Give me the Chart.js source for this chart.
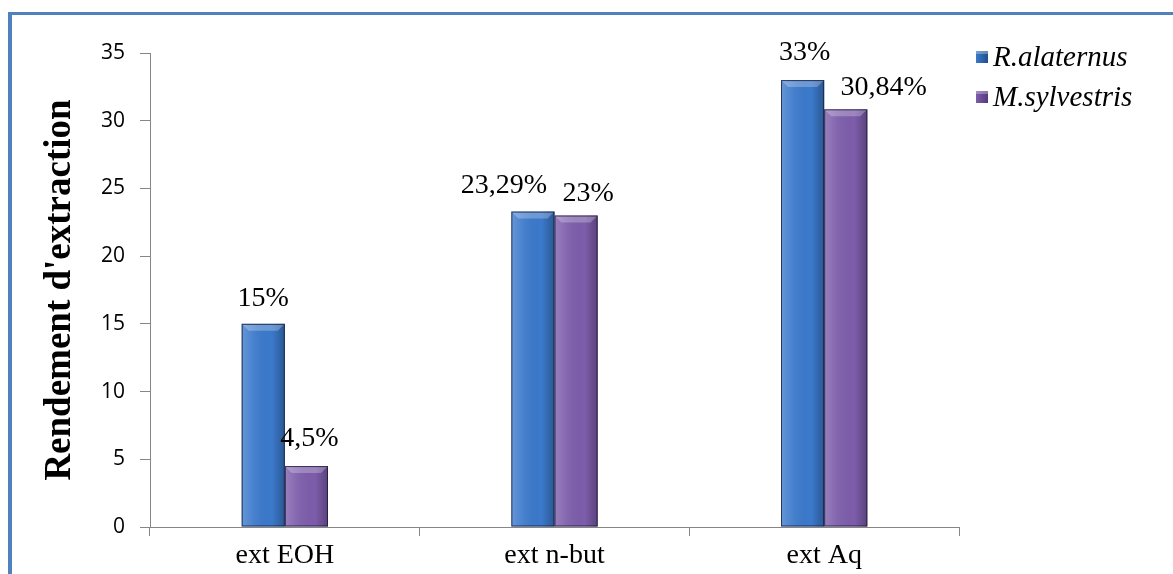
<!DOCTYPE html>
<html>
<head>
<meta charset="utf-8">
<script src="https://cdn.jsdelivr.net/npm/chart.js@4.4.1/dist/chart.umd.min.js"></script>
<style>
  html, body { margin: 0; padding: 0; background: #fff; }
  #wrap { position: relative; width: 1173px; height: 574px; overflow: hidden; }
  #chart { position: absolute; left: 0; top: 0; }
  /* blue frame of the original figure, only top and left edges are visible */
  #frame { position: absolute; left: 8px; top: 12px; width: 1200px; height: 600px;
           border-top: 3px solid #4f81bd; border-left: 4px solid #4f81bd; pointer-events: none; }
</style>
</head>
<body>
<div id="wrap">
  <canvas id="chart" width="1173" height="574"></canvas>
  <div id="frame"></div>
</div>
<script>
// data
const categories = ["ext EOH", "ext n-but", "ext Aq"]
const seriesNames = ["R.alaternus", "M.sylvestris"]
const alaternus = [15, 23.29, 33]
const sylvestris = [4.5, 23, 30.84]
const alaternusLabels = ["15%", "23,29%", "33%"]
const sylvestrisLabels = ["4,5%", "23%", "30,84%"]
const yTicks = [0, 5, 10, 15, 20, 25, 30, 35]

// label nudges (x shift, gap above bar) - Excel moved some to avoid overlap
const labelShift = [[0, -29, 2], [3, 12, 38]]
const labelGap = [[18, 19, 20], [20, 15, 14]]

const blue = "#3b79cb"
const purple = "#7d5dab"

// bevel / gradient look on the bars, drawn over each bar element
const bevel = {
  id: "bevel",
  afterDatasetsDraw(chart) {
    const ctx = chart.ctx
    chart.data.datasets.forEach((ds, i) => {
      chart.getDatasetMeta(i).data.forEach(bar => {
        const l = bar.x - bar.width / 2, r = bar.x + bar.width / 2
        const t = bar.y, b = bar.base
        const g = ctx.createLinearGradient(l, 0, r, 0)
        g.addColorStop(0, "rgba(255,255,255,0.22)")
        g.addColorStop(0.25, "rgba(255,255,255,0.08)")
        g.addColorStop(0.7, "rgba(0,0,0,0)")
        g.addColorStop(1, "rgba(0,0,0,0.28)")
        ctx.save()
        ctx.fillStyle = g
        ctx.fillRect(l, t, r - l, b - t)
        // light top facet
        ctx.fillStyle = "rgba(255,255,255,0.25)"
        ctx.beginPath()
        ctx.moveTo(l, t); ctx.lineTo(r, t); ctx.lineTo(r - 7, t + 7); ctx.lineTo(l + 7, t + 7)
        ctx.closePath(); ctx.fill()
        ctx.strokeStyle = "rgba(20,20,50,0.75)"
        ctx.lineWidth = 1
        ctx.strokeRect(l + 0.5, t + 0.5, r - l - 1, b - t - 1)
        ctx.restore()
      })
    })
  }
}

const valueLabels = {
  id: "valueLabels",
  afterDatasetsDraw(chart) {
    const ctx = chart.ctx
    const texts = [alaternusLabels, sylvestrisLabels]
    ctx.save()
    ctx.font = "28px 'Liberation Serif'"
    ctx.fillStyle = "#000"
    ctx.textAlign = "center"
    ctx.textBaseline = "alphabetic"
    chart.data.datasets.forEach((ds, i) => {
      chart.getDatasetMeta(i).data.forEach((bar, j) => {
        ctx.fillText(texts[i][j], bar.x + labelShift[i][j], bar.y - labelGap[i][j])
      })
    })
    ctx.restore()
  }
}

const sideLegend = {
  id: "sideLegend",
  afterDraw(chart) {
    const ctx = chart.ctx
    const x = chart.chartArea.right + 17
    ctx.save()
    ctx.font = "italic 29px 'Liberation Serif'"
    ctx.textBaseline = "middle"
    ctx.textAlign = "left"
    chart.data.datasets.forEach((ds, i) => {
      const y = 57 + i * 40
      const g = ctx.createLinearGradient(x, 0, x + 12, 0)
      g.addColorStop(0, ds.backgroundColor)
      g.addColorStop(1, i == 0 ? "#1f4f8c" : "#55397c")
      ctx.fillStyle = g
      ctx.fillRect(x, y - 6, 12, 12)
      ctx.fillStyle = "rgba(255,255,255,0.3)"
      ctx.fillRect(x, y - 6, 12, 3)
      ctx.fillStyle = "#000"
      ctx.fillText(ds.label, x + 17, y + 1)
    })
    ctx.restore()
  }
}

const ctx = document.getElementById("chart")
new Chart(ctx, {
  type: "bar",
  data: {
    labels: categories,
    datasets: [
      { label: seriesNames[0], data: alaternus, backgroundColor: blue },
      { label: seriesNames[1], data: sylvestris, backgroundColor: purple }
    ]
  },
  options: {
    responsive: false,
    animation: false,
    categoryPercentage: 0.32,
    barPercentage: 1,
    layout: { padding: { left: 36, top: 53, right: 214, bottom: 0 } },
    plugins: {
      legend: { display: false },
      tooltip: { enabled: false }
    },
    scales: {
      x: {
        grid: { display: true, drawOnChartArea: false, color: "#868686", tickLength: 9, offset: true },
        border: { color: "#868686", width: 1 },
        ticks: { color: "#000", font: { family: "Liberation Serif", size: 28 }, padding: 3 },
        afterFit(scale) { scale.height = 47 }
      },
      y: {
        min: 0,
        max: 35,
        afterBuildTicks(scale) { scale.ticks = yTicks.map(v => ({ value: v })) },
        grid: { display: true, drawOnChartArea: false, color: "#868686", tickLength: 10 },
        border: { color: "#868686", width: 1 },
        ticks: { color: "#000", font: { family: "'Open Sans'", size: 21 }, padding: 15 },
        title: {
          display: true,
          text: "Rendement d'extraction",
          color: "#000",
          font: { family: "Liberation Serif", size: 37, weight: "bold" },
          padding: { top: 2, bottom: 0 }
        },
        afterFit(scale) { scale.width = 114 }
      }
    }
  },
  plugins: [bevel, valueLabels, sideLegend]
})
</script>
</body>
</html>
